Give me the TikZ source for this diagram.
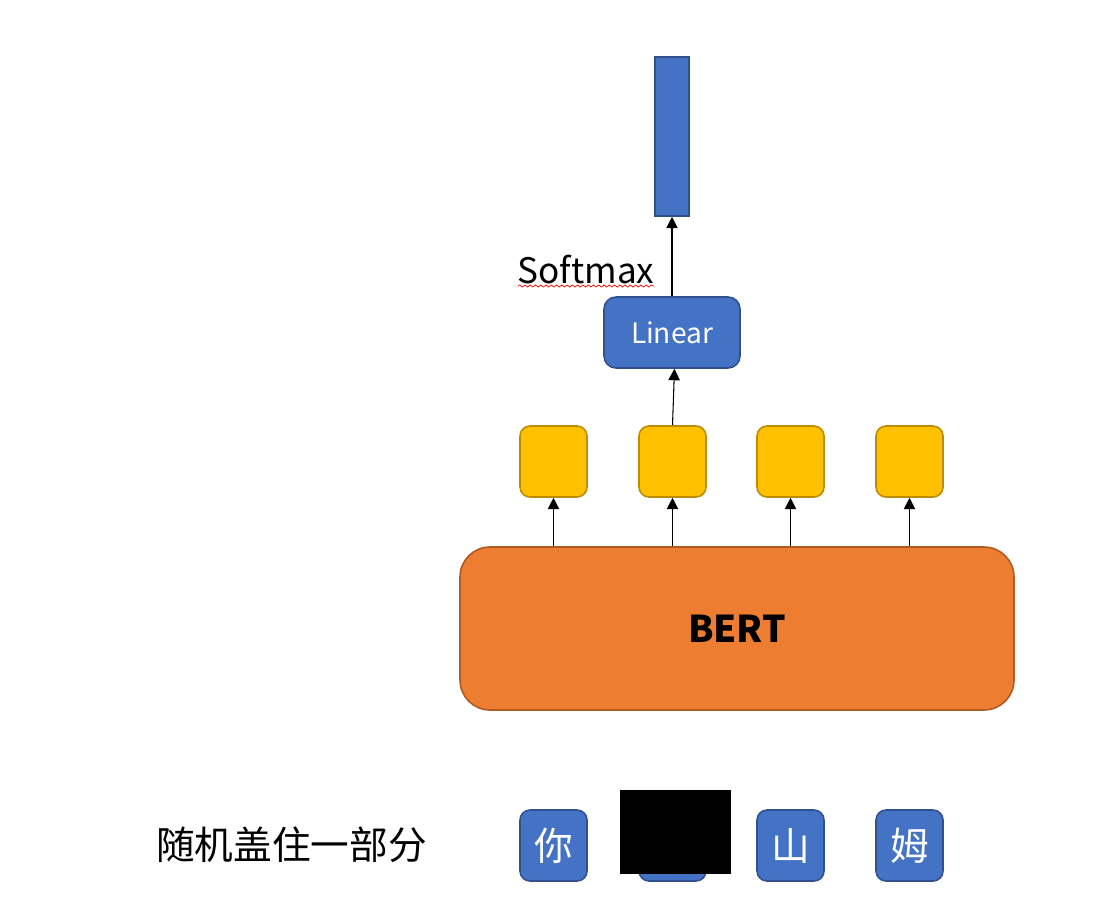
\documentclass[tikz,border=0pt]{standalone}
\usepackage{fontspec}
\setmainfont{Noto Sans CJK SC}
\usetikzlibrary{arrows.meta,decorations.pathmorphing}

\definecolor{tokblue}{HTML}{4472C4}
\definecolor{tokline}{HTML}{2F528F}
\definecolor{outyel}{HTML}{FFC000}
\definecolor{outline}{HTML}{BC8C00}
\definecolor{bertor}{HTML}{ED7D31}
\definecolor{bertline}{HTML}{AE5A21}

\tikzset{
  token/.style={draw=tokline, fill=tokblue, line width=0.9pt, rounded corners=0.2cm,
    minimum width=1.34cm, minimum height=1.42cm, inner sep=0pt, text=white,
    font=\fontsize{22}{24}\selectfont},
  hidden/.style={draw=outline, fill=outyel, line width=0.9pt, rounded corners=0.2cm,
    minimum width=1.34cm, minimum height=1.42cm, inner sep=0pt},
  arr/.style={-{Triangle[width=6.5pt,length=6.5pt]}, line width=0.6pt}
}

\begin{document}
\begin{tikzpicture}
\useasboundingbox (0,0) rectangle (22.4,-17.98);

\node[draw=tokline, fill=tokblue, line width=0.9pt, minimum width=0.68cm, minimum height=3.18cm, inner sep=0pt] (prob) at (13.44,-2.73) {};
\node[token, minimum width=2.72cm, rounded corners=0.24cm, font=\fontsize{16}{18}\selectfont] (linear) at (13.44,-6.65) {Linear};
\node[font=\fontsize{20}{22}\selectfont, inner sep=0pt] (softmax) at (11.72,-5.4) {Softmax};
\draw[red, line width=0.4pt, decorate, decoration={snake, amplitude=0.6pt, segment length=3pt}] (10.36,-5.72) -- (13.08,-5.72);

\node[hidden] (h1) at (11.07,-9.23) {};
\node[hidden] (h2) at (13.45,-9.23) {};
\node[hidden] (h3) at (15.81,-9.23) {};
\node[hidden] (h4) at (18.19,-9.23) {};

\node[draw=bertline, fill=bertor, line width=0.9pt, rounded corners=0.6cm, minimum width=11.08cm, minimum height=3.26cm,
  font=\fontsize{21}{23}\selectfont\bfseries] (bert) at (14.74,-12.57) {BERT};

\node[token] (t1) at (11.07,-16.91) {你};
\node[token] (t2) at (13.45,-16.91) {};
\node[token] (t3) at (15.81,-16.91) {山};
\node[token] (t4) at (18.19,-16.91) {姆};
\fill[black] (12.4,-15.8) rectangle (14.62,-17.47);

\node[font=\fontsize{22}{24}\selectfont, inner sep=0pt] (mask) at (5.83,-16.9) {随机盖住一部分};

\foreach \i in {1,...,4}
  \draw[arr] (bert.north -| h\i.south) -- (h\i.south);
\draw[arr] (h2.north) -- ([xshift=0.05cm]linear.south);
\draw[arr] (linear.north) -- (prob.south);
\end{tikzpicture}
\end{document}
